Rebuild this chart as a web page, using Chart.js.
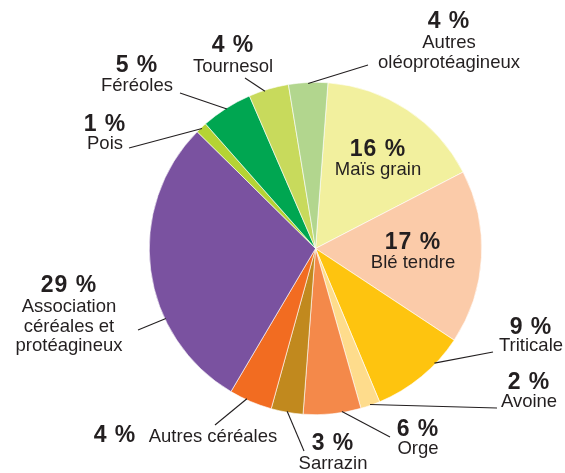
<!DOCTYPE html>
<html>
<head>
<meta charset="utf-8">
<script src="https://cdn.jsdelivr.net/npm/chart.js@4"></script>
<style>
    html, body { margin: 0; padding: 0; background: #fff; }
    #wrap { width: 565px; height: 473px; }
</style>
</head>
<body>
<div id="wrap"><canvas id="pieChart" width="565" height="473"></canvas></div>
<script>
// Catégories (sens horaire depuis le haut)
const categories = [
    'Maïs grain', 'Blé tendre', 'Triticale', 'Avoine', 'Orge', 'Sarrazin',
    'Autres céréales', 'Association céréales et protéagineux', 'Pois',
    'Féréoles', 'Tournesol', 'Autres oléoprotéagineux'
];

// Parts
const shares = [16.2, 16.9, 9.4, 1.9, 5.6, 3.1, 4.2, 28.9, 1.1, 5.0, 3.9, 3.8];

// Étiquettes affichées
const pctLabels = ['16 %', '17 %', '9 %', '2 %', '6 %', '3 %', '4 %', '29 %', '1 %', '5 %', '4 %', '4 %'];
const nameLines = [
    ['Maïs grain'], ['Blé tendre'], ['Triticale'], ['Avoine'], ['Orge'], ['Sarrazin'],
    ['Autres céréales'], ['Association', 'céréales et', 'protéagineux'], ['Pois'],
    ['Féréoles'], ['Tournesol'], ['Autres', 'oléoprotéagineux']
];

const colors = [
    '#F2F09E', '#FBCBA9', '#FEC40F', '#FEDC8C', '#F4894A', '#C1891E',
    '#F26C21', '#7A52A0', '#B5D334', '#00A651', '#C8DA5C', '#B2D68E'
];

// Placement des textes : x, y du pourcentage, y de la 1re ligne du nom
// leader : extrémité extérieure du trait + position le long de la part (0..1)
const labelLayout = [
    { x: 378, py: 150, ny: 170 },
    { x: 413, py: 243, ny: 263 },
    { x: 531, py: 328, ny: 346, leader: [493, 352], frac: 0.31 },
    { x: 529, py: 383, ny: 402, leader: [497, 408], frac: 0.5 },
    { x: 418, py: 430, ny: 449, leader: [390, 437], frac: 0.33 },
    { x: 333, py: 444, ny: 464, leader: [304, 451], frac: 0.5 },
    { x: 115, py: 436, nx: 213, ny: 437, leader: [215, 425], frac: 0.6 },
    { x: 69, py: 286, ny: 307, leader: [138, 330], frac: 0.33 },
    { x: 105, py: 125, ny: 144, leader: [129, 148], frac: 0.5 },
    { x: 137, py: 66, ny: 86, leader: [180, 93], frac: 0.5 },
    { x: 233, py: 46, ny: 67, leader: [245, 78], frac: 0.4 },
    { x: 449, py: 22, ny: 43, leader: [368, 65], frac: 0.5 }
];

const textColor = '#231F20';

// Étiquettes et traits de rappel
const labelPlugin = {
    id: 'pieLabels',
    afterDatasetsDraw(chart) {
        const ctx = chart.ctx;
        const arcs = chart.getDatasetMeta(0).data;
        ctx.save();

        // traits
        ctx.strokeStyle = '#231F20';
        ctx.lineWidth = 1.1;
        arcs.forEach((arc, i) => {
            const lay = labelLayout[i];
            if (!lay.leader) return;
            const a = arc.startAngle + (arc.endAngle - arc.startAngle) * lay.frac;
            const r = arc.outerRadius - 1;
            ctx.beginPath();
            ctx.moveTo(arc.x + Math.cos(a) * r, arc.y + Math.sin(a) * r);
            ctx.lineTo(lay.leader[0], lay.leader[1]);
            ctx.stroke();
        });

        // textes
        ctx.fillStyle = textColor;
        ctx.textAlign = 'center';
        ctx.textBaseline = 'middle';
        labelLayout.forEach((lay, i) => {
            ctx.font = 'bold 23px "Liberation Sans", Arial, sans-serif';
            ctx.letterSpacing = '1px';
            ctx.fillText(pctLabels[i], lay.x, lay.py);
            ctx.font = '18.5px "Liberation Sans", Arial, sans-serif';
            ctx.letterSpacing = '0px';
            nameLines[i].forEach((line, k) => {
                ctx.fillText(line, lay.nx || lay.x, lay.ny + k * 19.5);
            });
        });
        ctx.restore();
    }
};

const ctx = document.getElementById('pieChart').getContext('2d');
new Chart(ctx, {
    type: 'pie',
    data: {
        labels: categories,
        datasets: [{
            data: shares,
            backgroundColor: colors,
            borderColor: '#ffffff',
            borderWidth: 0.6
        }]
    },
    options: {
        responsive: false,
        animation: false,
        rotation: 4.3,
        layout: {
            padding: { top: 82, bottom: 58, left: 149, right: 83 }
        },
        plugins: {
            legend: { display: false },
            tooltip: { enabled: false }
        }
    },
    plugins: [labelPlugin]
});
</script>
</body>
</html>
